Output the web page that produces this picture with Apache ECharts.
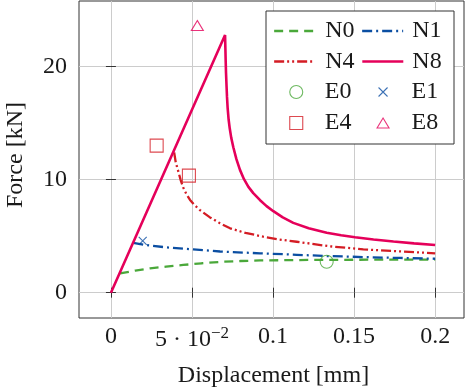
<!DOCTYPE html>
<html><head><meta charset="utf-8">
<script src="https://cdn.jsdelivr.net/npm/echarts@6/dist/echarts.min.js"></script>
<style>html,body{margin:0;padding:0;background:#fff}#c{width:467px;height:391px}</style>
</head><body><div id="c"></div>
<script>
// ---- data ----
const xTicks = [0, 0.05, 0.1, 0.15, 0.2];
const xTickLabels = ['0', '5 · 10|−2', '0.1', '0.15', '0.2'];
const yTicks = [0, 10, 20];
const yTickLabels = ['0', '10', '20'];
const xTitle = 'Displacement [mm]';
const yTitle = 'Force [kN]';

const N0 = [[0.0056,1.70],[0.0150,1.95],[0.0241,2.15],[0.0340,2.30],[0.0446,2.45],[0.0560,2.60],[0.0673,2.72],[0.0800,2.80],[0.0920,2.85],[0.1100,2.88],[0.1300,2.90],[0.1500,2.91],[0.1750,2.92],[0.2000,2.92]];
const N1 = [[0.0138,4.40],[0.0220,4.20],[0.0344,4.00],[0.0508,3.83],[0.0673,3.64],[0.0920,3.48],[0.1146,3.35],[0.1330,3.24],[0.1557,3.15],[0.1780,3.07],[0.2000,3.00]];
const N4 = [[0.0390,12.4],[0.0400,11.5],[0.0416,10.7],[0.0430,9.95],[0.0446,9.3],[0.0466,8.7],[0.0488,8.2],[0.0515,7.75],[0.0549,7.3],[0.0611,6.65],[0.0673,6.13],[0.0735,5.69],[0.0830,5.28],[0.0940,4.95],[0.1040,4.70],[0.1146,4.50],[0.1350,4.10],[0.1557,3.83],[0.1780,3.65],[0.2000,3.48]];
const N8 = [[0,0],[0.0704,22.76],[0.0706,21.6],[0.0708,20.4],[0.0710,19.4],[0.0713,18.3],[0.0716,17.3],[0.0720,16.3],[0.0726,15.3],[0.0733,14.5],[0.0742,13.7],[0.0755,12.85],[0.0774,11.8],[0.0796,10.85],[0.0820,10.05],[0.0848,9.35],[0.0878,8.80],[0.0920,8.17],[0.0960,7.65],[0.1002,7.20],[0.1060,6.65],[0.1125,6.17],[0.1220,5.70],[0.1331,5.30],[0.1420,5.08],[0.1506,4.90],[0.1620,4.70],[0.1743,4.52],[0.1870,4.36],[0.2000,4.21]];
const E0 = [[0.1331,2.74]];
const E1 = [[0.0196,4.57]];
const E4 = [[0.0282,12.99],[0.0481,10.34]];
const E8 = [[0.0533,23.6]];

const seriesNames = ['N0','N1','N4','N8','E0','E1','E4','E8'];
const colors = {N0:'#4aa83a', N1:'#0b4ea2', N4:'#d41c24', N8:'#e5005a', E0:'#4aa83a', E1:'#0b4ea2', E4:'#d41c24', E8:'#e5005a'};

// ---- styles ----
const FONT = 'Liberation Serif';
const TXT = '#1a1a1a';
const dash = {N0:[9,6], N1:[10,4,2,4], N4:[10,3,2,3,2,3], N8:'solid'};
const lineW = {N0:2.3, N1:2.3, N4:2.3, N8:2.6};
const crossPath = 'path://M0,0L10,10M0,10L10,0';
const markers = {
  E0:{symbol:'circle', size:13},
  E1:{symbol:crossPath, size:8},
  E4:{symbol:'rect', size:13},
  E8:{symbol:'triangle', size:[12,10]}
};
const lineData = {N0, N1, N4, N8};
const scatData = {E0, E1, E4, E8};

function xLabel(v){
  let i = xTicks.findIndex(t => Math.abs(t - v) < 1e-9);
  if (i < 0) return '';
  const s = xTickLabels[i];
  if (s.indexOf('|') >= 0) { const p = s.split('|'); return '{a|' + p[0] + '}{s|' + p[1] + '}'; }
  return '{p|' + s + '}';
}
function yLabel(v){
  let i = yTicks.findIndex(t => Math.abs(t - v) < 1e-9);
  return i < 0 ? '' : yTickLabels[i];
}

const series = [];
['N0','N1','N4','N8'].forEach(n => series.push({
  name:n, type:'line', data:lineData[n], symbol:'none', showSymbol:false,
  lineStyle:{color:colors[n], width:lineW[n], type:dash[n]}, itemStyle:{color:colors[n]},
  z: n==='N8'?4:3, animation:false
}));
['E0','E1','E4','E8'].forEach(n => series.push({
  name:n, type:'scatter', data:scatData[n], symbol:markers[n].symbol, symbolSize:markers[n].size,
  itemStyle:{color:'transparent', borderColor:colors[n], borderWidth:1.1}, z:5, animation:false
}));

// legend layout: [name, left, rowCenter, itemWidth, itemHeight, textPad]
const legendPos = [['N0',273,31,41,14,5],['N1',361,31,41,14,4],
                   ['N4',273,61.5,41,14,5],['N8',361,61.5,41,14,4],
                   ['E0',289.2,92,13,13,17],['E1',378,92,9,9,19],
                   ['E4',289.2,123,13,13,17],['E8',376.5,123,12,10,17.5]];
const legends = legendPos.map(([n,l,c,w,h,pad]) => {
  const isLine = n[0]==='N';
  const lg = {
    data:[n], left:l, top:c - 12, itemWidth:w, itemHeight:h, padding:0, selectedMode:false,
    textStyle:{fontFamily:FONT, fontSize:24, color:TXT, padding:[0,0,0,pad], lineHeight:24}
  };
  if (isLine) { lg.lineStyle = {color:colors[n], width:lineW[n], type:dash[n]}; lg.itemStyle = {color:colors[n], opacity:0}; }
  else { lg.itemStyle = {color:'transparent', borderColor:colors[n], borderWidth:1.1}; }
  return lg;
});

const chart = echarts.init(document.getElementById('c'), null, {renderer:'canvas'});
chart.setOption({
  animation:false,
  backgroundColor:'#fff',
  grid:{left:79, right:3, top:1, bottom:73, outerBoundsMode:'none', containLabel:false,
        show:true, borderColor:'#333', borderWidth:1, backgroundColor:'transparent'},
  graphic:[{type:'rect', shape:{x:266, y:11, width:188, height:133}, style:{fill:'#fff', stroke:'#333', lineWidth:1}, z:3}],
  legend: legends,
  xAxis:[{
    type:'value', min:-0.0197, max:0.2178, position:'bottom',
    name:xTitle, nameLocation:'middle', nameGap:46,
    nameTextStyle:{fontFamily:FONT, fontSize:24, color:TXT, padding:[0,0,0,4]},
    axisLine:{show:false},
    axisTick:{show:true, inside:true, length:5, customValues:xTicks, lineStyle:{color:'#333'}},
    splitLine:{show:true, lineStyle:{color:'#cccccc', width:1}},
    axisLabel:{customValues:xTicks, formatter:xLabel, margin:7, fontFamily:FONT, fontSize:24, color:TXT, lineHeight:24,
      rich:{p:{fontFamily:FONT, fontSize:24, color:TXT, lineHeight:24},
            a:{fontFamily:FONT, fontSize:24, color:TXT, lineHeight:30},
            s:{fontFamily:FONT, fontSize:17, color:TXT, lineHeight:22, verticalAlign:'top'}}}
  },{
    type:'value', min:-0.0197, max:0.2178, position:'top',
    axisLine:{show:false}, splitLine:{show:false}, axisLabel:{show:false},
    axisTick:{show:true, inside:true, length:5, customValues:xTicks, lineStyle:{color:'#333'}}
  }],
  yAxis:[{
    type:'value', min:-2.235, max:25.77, position:'left',
    name:yTitle, nameLocation:'middle', nameGap:51,
    nameTextStyle:{fontFamily:FONT, fontSize:24, color:TXT, padding:[0,0,0,9]},
    axisLine:{show:false},
    axisTick:{show:true, inside:true, length:5, customValues:yTicks, lineStyle:{color:'#333'}},
    splitLine:{show:true, lineStyle:{color:'#cccccc', width:1}},
    axisLabel:{customValues:yTicks, formatter:yLabel, margin:12, fontFamily:FONT, fontSize:24, color:TXT}
  },{
    type:'value', min:-2.235, max:25.77, position:'right',
    axisLine:{show:false}, splitLine:{show:false}, axisLabel:{show:false},
    axisTick:{show:true, inside:true, length:5, customValues:yTicks, lineStyle:{color:'#333'}}
  }],
  series: series
});
</script></body></html>
